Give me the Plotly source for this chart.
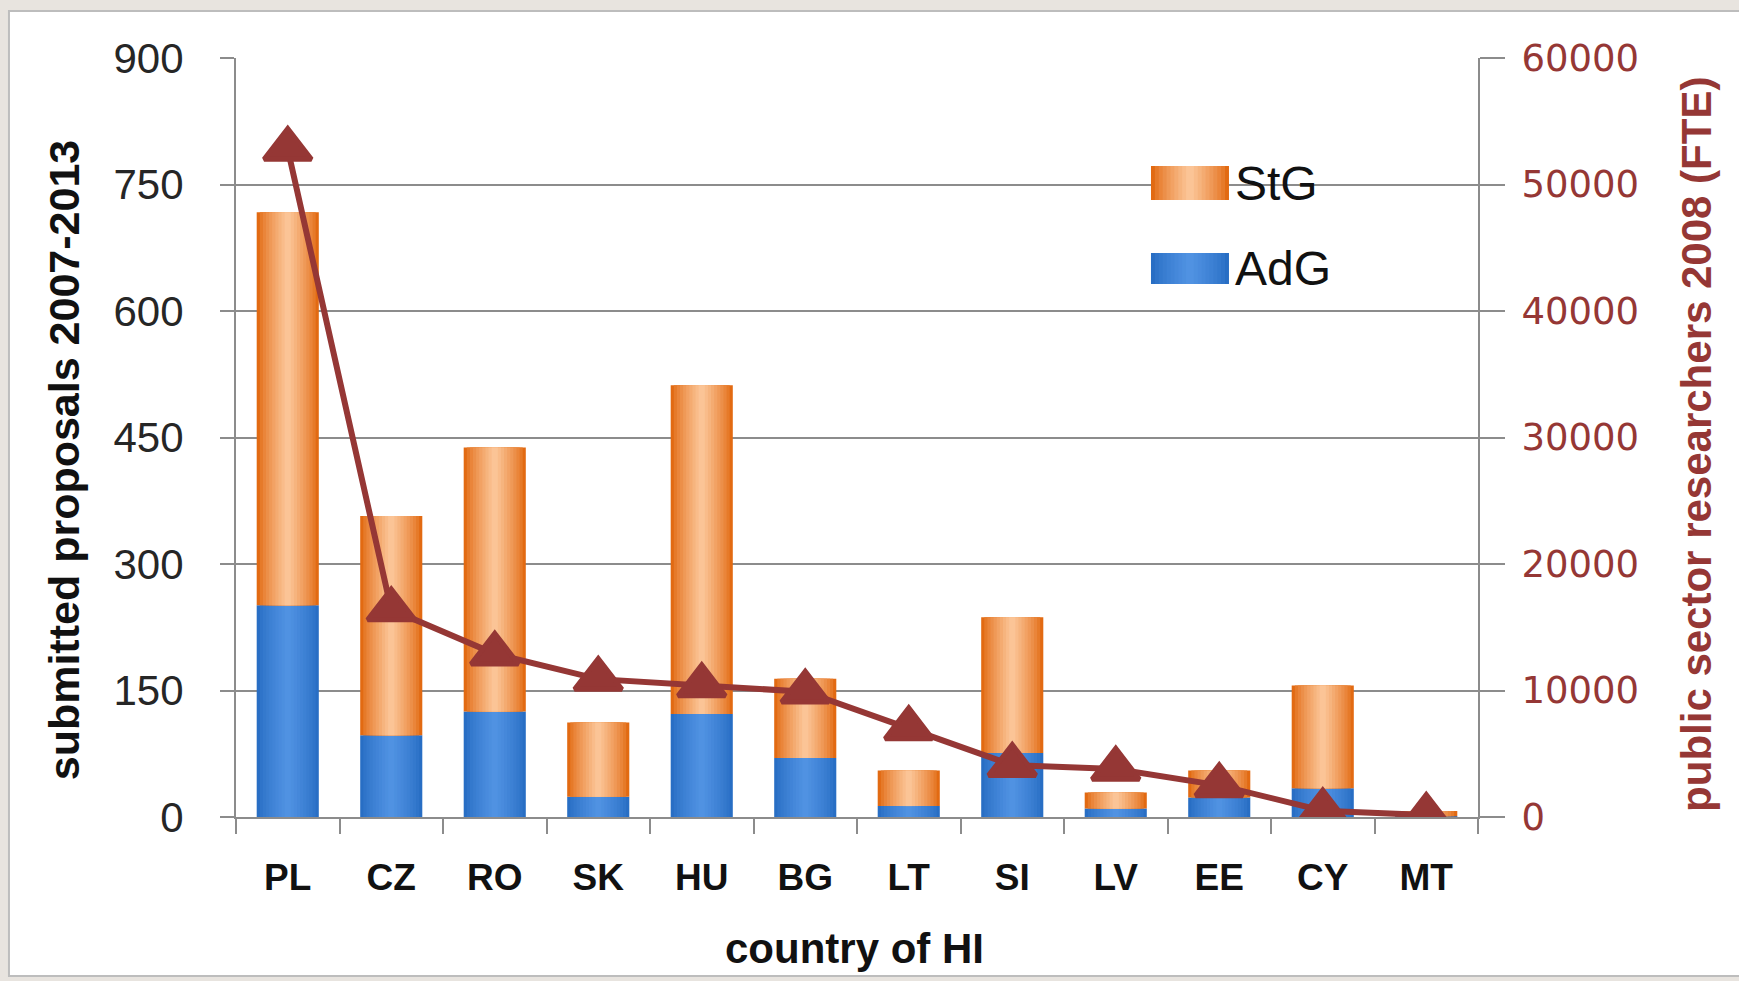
import plotly.graph_objects as go

countries = ["PL", "CZ", "RO", "SK", "HU", "BG", "LT", "SI", "LV", "EE", "CY", "MT"]
adg = [251, 97, 125, 24, 122, 70, 13, 76, 10, 23, 34, 1]
stg = [466, 260, 313, 88, 390, 94, 42, 161, 19, 32, 122, 6]
researchers = [52800, 16400, 12900, 10900, 10400, 9900, 7000, 4100, 3800, 2500, 500, 150]

y_ticks = [0, 150, 300, 450, 600, 750, 900]
y2_ticks = [0, 10000, 20000, 30000, 40000, 50000, 60000]
y2_labels = ["0", "10000", "20000", "30000", "40000", "50000", "60000"]

ORANGE_EDGE = (226, 106, 18)
ORANGE_MID = (251, 196, 150)
BLUE_EDGE = (40, 110, 196)
BLUE_MID = (80, 146, 226)
LINE_COLOR = "#953735"
GRID = "#8C8C8C"

N_LAYERS = 10
BAR_W = 0.6


def mix(c1, c2, t):
    return "rgb(%d,%d,%d)" % tuple(round(a + (b - a) * t) for a, b in zip(c1, c2))


fig = go.Figure()

# gradient bars: layers of decreasing width, lighter towards the centre
for vals, base, edge, mid, name in [
    (adg, [0] * len(adg), BLUE_EDGE, BLUE_MID, "AdG"),
    (stg, adg, ORANGE_EDGE, ORANGE_MID, "StG"),
]:
    for k in range(N_LAYERS):
        t = k / (N_LAYERS - 1)
        w = BAR_W * (1 - k / N_LAYERS)
        fig.add_trace(go.Bar(
            x=countries, y=vals, base=base, width=w,
            marker=dict(color=mix(edge, mid, t ** 0.8), line=dict(width=0)),
            name=name, showlegend=False, hoverinfo="skip" if k else None,
        ))

fig.add_trace(go.Scatter(
    x=countries, y=researchers, yaxis="y2", mode="lines+markers",
    line=dict(color=LINE_COLOR, width=6),
    marker=dict(symbol="triangle-up", size=41, color=LINE_COLOR,
                line=dict(color=LINE_COLOR, width=5)),
    name="researchers", showlegend=False,
))

shapes = []
# page frame
shapes.append(dict(type="rect", xref="paper", yref="paper",
                   x0=-0.1828, x1=1.215, y0=-0.2095, y1=1.0619,
                   fillcolor="white", line=dict(color="#BDBDBD", width=2), layer="below"))
# legend box (hides gridline)
shapes.append(dict(type="rect", xref="paper", yref="paper",
                   x0=0.680, x1=0.9436, y0=0.681, y1=0.885,
                   fillcolor="white", line=dict(width=0), layer="between"))
# legend swatches with gradient
sw_x0, sw_x1 = 0.7367, 0.7995
for (y0, y1, edge, mid) in [(0.8129, 0.8577, ORANGE_EDGE, ORANGE_MID),
                            (0.7022, 0.7431, BLUE_EDGE, BLUE_MID)]:
    for k in range(N_LAYERS):
        t = k / (N_LAYERS - 1)
        half = (sw_x1 - sw_x0) / 2 * (1 - k / N_LAYERS)
        c = (sw_x0 + sw_x1) / 2
        shapes.append(dict(type="rect", xref="paper", yref="paper",
                           x0=c - half, x1=c + half, y0=y0, y1=y1,
                           fillcolor=mix(edge, mid, t ** 0.8), line=dict(width=0),
                           layer="above"))

annotations = [
    dict(text="StG", xref="paper", yref="paper", x=0.803, y=0.8353, xanchor="left",
         yanchor="middle", showarrow=False,
         font=dict(family="Liberation Sans", size=48, color="#111")),
    dict(text="AdG", xref="paper", yref="paper", x=0.803, y=0.7233, xanchor="left",
         yanchor="middle", showarrow=False,
         font=dict(family="Liberation Sans", size=48, color="#111")),
    dict(text="submitted proposals 2007-2013", xref="paper", yref="paper",
         x=-0.1385, y=0.470, textangle=-90, showarrow=False,
         xanchor="center", yanchor="middle",
         font=dict(family="Liberation Sans", size=43, color="#111", weight="bold")),
    dict(text="public sector researchers 2008 (FTE)", xref="paper", yref="paper",
         x=1.176, y=0.491, textangle=-90, showarrow=False,
         xanchor="center", yanchor="middle",
         font=dict(family="Liberation Sans", size=42, color=LINE_COLOR, weight="bold")),
    dict(text="country of HI", xref="paper", yref="paper",
         x=0.498, y=-0.1726, showarrow=False, xanchor="center", yanchor="middle",
         font=dict(family="Liberation Sans", size=42, color="#111", weight="bold")),
]

fig.update_layout(
    width=1739, height=981,
    margin=dict(l=236, r=261, t=58, b=164),
    paper_bgcolor="#E8E4DF", plot_bgcolor="white",
    barmode="overlay",
    shapes=shapes, annotations=annotations,
    xaxis=dict(
        type="category", categoryorder="array", categoryarray=countries,
        range=[-0.5, len(countries) - 0.5],
        tickson="boundaries", ticks="outside", ticklen=15, tickwidth=2, tickcolor=GRID,
        showline=True, linecolor=GRID, linewidth=2, showgrid=False,
        ticklabelstandoff=27,
        tickfont=dict(family="Liberation Sans", size=37, color="#111", weight="bold"),
    ),
    yaxis=dict(
        range=[0, 900], tickvals=y_ticks, ticks="outside", ticklen=14, tickwidth=2,
        tickcolor=GRID, showgrid=True, gridcolor=GRID, gridwidth=2,
        showline=True, linecolor=GRID, linewidth=2, zeroline=False,
        ticklabelstandoff=28,
        tickfont=dict(family="Liberation Sans", size=42, color="#262626"),
    ),
    yaxis2=dict(
        range=[0, 60000], tickvals=y2_ticks, ticktext=y2_labels,
        overlaying="y", side="right",
        ticks="outside", ticklen=25, tickwidth=2, tickcolor=GRID,
        showgrid=False, showline=True, linecolor=GRID, linewidth=2, zeroline=False,
        ticklabelstandoff=9,
        tickfont=dict(family="DejaVu Sans", size=37, color=LINE_COLOR),
    ),
)

fig.write_html("out.html", config={"displayModeBar": False},
               post_script="document.body.style.margin='0';")
